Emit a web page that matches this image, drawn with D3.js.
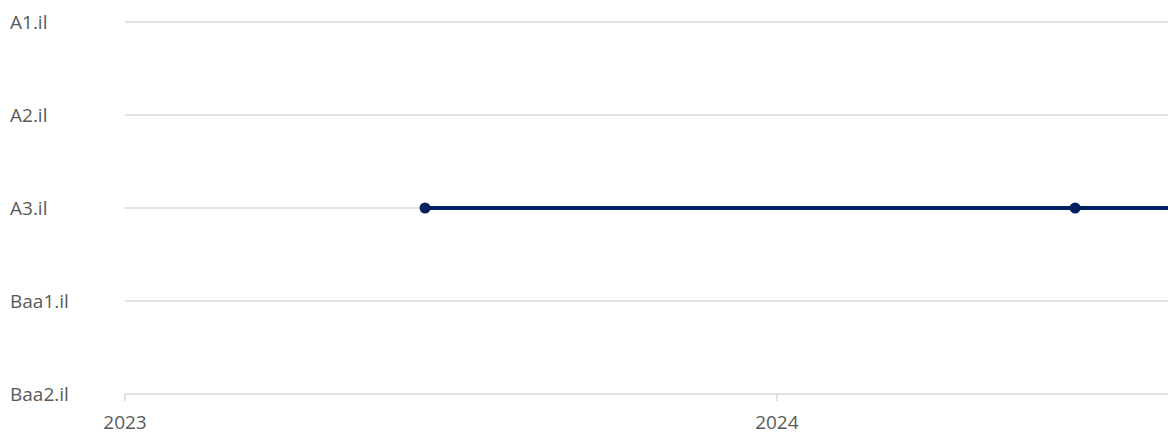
<!DOCTYPE html>
<html>
<head>
<meta charset="utf-8">
<script src="https://cdn.jsdelivr.net/npm/d3@7"></script>
<style>
  body { margin: 0; background: #fff; }
  text { font-family: "Open Sans", "Noto Sans", sans-serif; fill: #595959; }
</style>
</head>
<body>
<svg id="chart" width="1168" height="432"></svg>
<script>
(function() {
  'use strict';

  var ratings = ["A1.il", "A2.il", "A3.il", "Baa1.il", "Baa2.il"];
  var xTicks = ["2023-01-01", "2024-01-01"];
  var pointDates = ["2023-06-18", "2024-06-16"];
  var pointRatings = ["A3.il", "A3.il"];
  var domainDates = ["2023-01-01", "2024-08-07"];

  var parse = d3.timeParse("%Y-%m-%d");
  var left = 125, right = 1168;

  var svg = d3.select("#chart");

  var x = d3.scaleTime()
    .domain(domainDates.map(parse))
    .range([left, right]);

  var y = d3.scalePoint()
    .domain(ratings)
    .range([22, 394]);

  // gridlines
  svg.append("g")
    .selectAll("line")
    .data(ratings)
    .join("line")
    .attr("x1", left)
    .attr("x2", right)
    .attr("y1", function(d) { return y(d); })
    .attr("y2", function(d) { return y(d); })
    .attr("stroke", "#d9d9d9")
    .attr("stroke-width", 1.5);

  // y labels
  svg.append("g")
    .selectAll("text")
    .data(ratings)
    .join("text")
    .attr("x", 10)
    .attr("y", function(d) { return y(d); })
    .attr("dy", "0.38em")
    .attr("font-size", 19)
    .text(function(d) { return d; });

  // x ticks
  var ticks = svg.append("g")
    .selectAll("g")
    .data(xTicks.map(parse))
    .join("g")
    .attr("transform", function(d) { return "translate(" + x(d) + ",0)"; });

  ticks.append("line")
    .attr("y1", 394)
    .attr("y2", 401)
    .attr("stroke", "#d9d9d9")
    .attr("stroke-width", 1.5);

  ticks.append("text")
    .attr("y", 429)
    .attr("text-anchor", "middle")
    .attr("font-size", 19)
    .text(function(d) { return d3.timeFormat("%Y")(d); });

  // series
  var pts = pointDates.map(function(d, i) {
    return { date: parse(d), rating: pointRatings[i] };
  });
  var linePts = pts.concat([{ date: x.domain()[1], rating: pts[pts.length - 1].rating }]);

  var line = d3.line()
    .x(function(d) { return x(d.date); })
    .y(function(d) { return y(d.rating); })
    .curve(d3.curveStepAfter);

  svg.append("path")
    .datum(linePts)
    .attr("d", line)
    .attr("fill", "none")
    .attr("stroke", "#002060")
    .attr("stroke-width", 4);

  svg.append("g")
    .selectAll("circle")
    .data(pts)
    .join("circle")
    .attr("cx", function(d) { return x(d.date); })
    .attr("cy", function(d) { return y(d.rating); })
    .attr("r", 5.5)
    .attr("fill", "#002060");
}());
</script>
</body>
</html>
